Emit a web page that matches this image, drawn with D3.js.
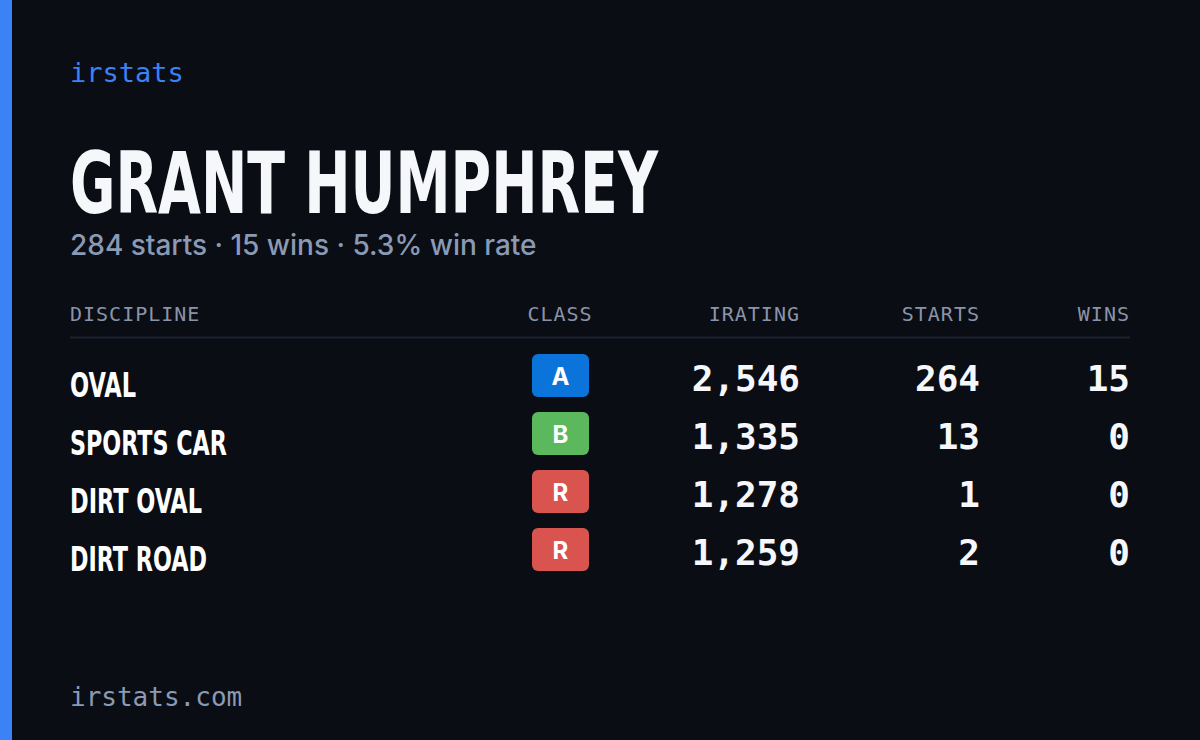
<!DOCTYPE html>
<html>
<head>
<meta charset="utf-8">
<script src="https://cdn.jsdelivr.net/npm/d3@7"></script>
<style>
  body { margin: 0; background: #0a0d14; }
  svg { display: block; }
</style>
</head>
<body>
<div id="card"></div>
<script>
var svgWidth = 1200;
var svgHeight = 740;

var driverName = "GRANT HUMPHREY";
var summary = "284 starts \u00b7 15 wins \u00b7 5.3% win rate";
var headers = ["DISCIPLINE", "CLASS", "IRATING", "STARTS", "WINS"];
var disciplines = ["OVAL", "SPORTS CAR", "DIRT OVAL", "DIRT ROAD"];
var classes = ["A", "B", "R", "R"];
var iratings = [2546, 1335, 1278, 1259];
var starts = [264, 13, 1, 2];
var wins = [15, 0, 0, 0];

var classColors = { A: "#0a74da", B: "#5cb85c", R: "#d9534f" };
var mono = "'DejaVu Sans Mono', 'Liberation Mono', monospace";
var cond = "'DejaVu Sans Condensed', 'DejaVu Sans', sans-serif";

var svg = d3.select("#card")
  .append("svg")
  .attr("width", svgWidth)
  .attr("height", svgHeight);

svg.append("rect").attr("width", svgWidth).attr("height", svgHeight).attr("fill", "#0a0d14");
svg.append("rect").attr("width", 12).attr("height", svgHeight).attr("fill", "#3b82f6");

// brand
svg.append("text")
  .attr("x", 70).attr("y", 82)
  .attr("font-family", mono).attr("font-size", 27)
  .attr("fill", "#3b82f6")
  .text("irstats");

// name
svg.append("text")
  .attr("x", 70).attr("y", 213)
  .attr("font-family", cond).attr("font-weight", "bold").attr("font-size", 86)
  .attr("textLength", 588).attr("lengthAdjust", "spacingAndGlyphs")
  .attr("fill", "#f5f7fb")
  .text(driverName);

svg.append("text")
  .attr("x", 70).attr("y", 255)
  .attr("font-family", "Inter, 'Noto Sans', sans-serif").attr("font-weight", 500).attr("font-size", 28)
  .attr("fill", "#8b9ab4")
  .text(summary);

// columns: x anchor and alignment
var cols = [
  { x: 70, anchor: "start" },
  { x: 560, anchor: "middle" },
  { x: 800, anchor: "end" },
  { x: 980, anchor: "end" },
  { x: 1130, anchor: "end" }
];

svg.selectAll(".hdr")
  .data(headers)
  .enter()
  .append("text")
  .attr("class", "hdr")
  .attr("x", (d, i) => cols[i].x)
  .attr("y", 321)
  .attr("text-anchor", (d, i) => cols[i].anchor)
  .attr("font-family", mono).attr("font-size", 20)
  .attr("letter-spacing", 1)
  .attr("fill", "#8a94a8")
  .text(d => d);

svg.append("line")
  .attr("x1", 70).attr("x2", 1130)
  .attr("y1", 337.5).attr("y2", 337.5)
  .attr("stroke", "#1c2230").attr("stroke-width", 2);

// rows
var y = d3.scaleBand()
  .domain(d3.range(disciplines.length))
  .range([346, 578]);

var fmt = d3.format(",");

var rows = svg.selectAll(".row")
  .data(disciplines.map((d, i) => ({ name: d, cls: classes[i], ir: iratings[i], st: starts[i], w: wins[i] })))
  .enter()
  .append("g")
  .attr("class", "row")
  .attr("transform", (d, i) => `translate(0, ${y(i)})`);

var nameWidths = { "OVAL": 66, "SPORTS CAR": 157, "DIRT OVAL": 132, "DIRT ROAD": 137 };

rows.append("text")
  .attr("x", 70).attr("y", 51)
  .attr("font-family", cond).attr("font-weight", "bold").attr("font-size", 34)
  .attr("textLength", d => nameWidths[d.name]).attr("lengthAdjust", "spacingAndGlyphs")
  .attr("fill", "#ffffff")
  .text(d => d.name);

rows.append("rect")
  .attr("x", 532).attr("y", 8)
  .attr("width", 57).attr("height", 43)
  .attr("rx", 6)
  .attr("fill", d => classColors[d.cls]);

rows.append("text")
  .attr("x", 560.5).attr("y", 39)
  .attr("text-anchor", "middle")
  .attr("font-family", "Inter, 'DejaVu Sans', sans-serif").attr("font-weight", "bold").attr("font-size", 24)
  .attr("fill", "#ffffff")
  .text(d => d.cls);

var numCols = [["ir", 2], ["st", 3], ["w", 4]];
numCols.forEach(function(c) {
  rows.append("text")
    .attr("x", cols[c[1]].x)
    .attr("y", 45)
    .attr("text-anchor", "end")
    .attr("font-family", mono).attr("font-weight", "bold").attr("font-size", 36)
    .attr("fill", "#f5f7fb")
    .text(d => c[0] === "ir" ? fmt(d[c[0]]) : d[c[0]]);
});

// footer
svg.append("text")
  .attr("x", 70).attr("y", 706)
  .attr("font-family", mono).attr("font-size", 26)
  .attr("fill", "#8b9ab4")
  .text("irstats.com");
</script>
</body>
</html>
